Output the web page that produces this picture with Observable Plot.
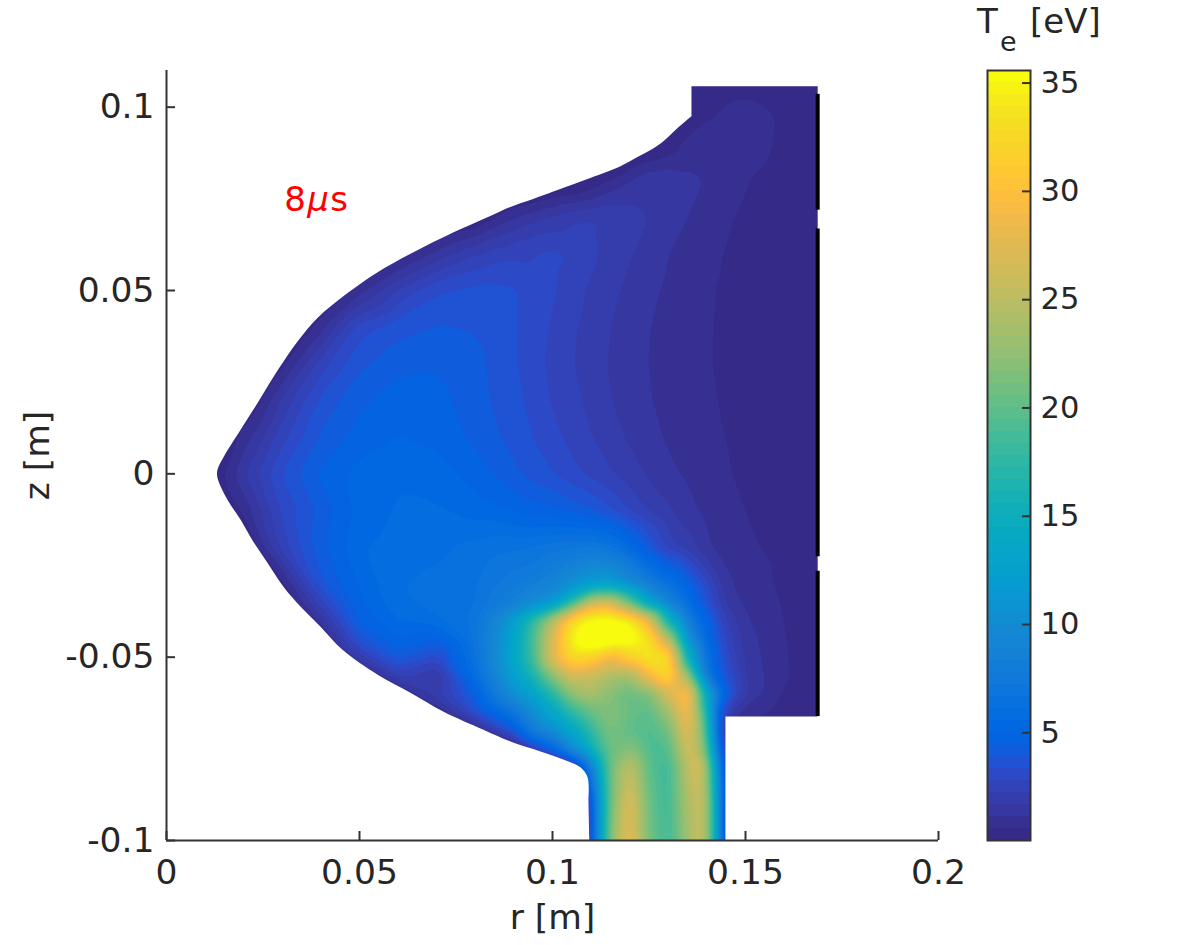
<!DOCTYPE html>
<html><head><meta charset="utf-8">
<script src="https://cdn.jsdelivr.net/npm/d3@7"></script>
<script src="https://cdn.jsdelivr.net/npm/@observablehq/plot@0.6"></script>
<style>
html,body{margin:0;padding:0;background:#fff}
#wrap{position:relative;width:1200px;height:945px;overflow:hidden;font-family:"DejaVu Sans";color:#262626}
#wrap svg{position:absolute;left:0;top:0;background:transparent}
.ct{position:absolute;white-space:pre;line-height:1;font-family:"DejaVu Sans"}
</style></head><body><div id="wrap"></div>
<script>
const xTicks=[0,0.05,0.1,0.15,0.2];
const yTicks=[-0.1,-0.05,0,0.05,0.1];
const cbTicks=[5,10,15,20,25,30,35];
const tMin=0.03, tMax=35.58;
const parula=[[.2081,.1663,.5292],[.2116,.1898,.5777],[.2123,.2138,.6270],[.2081,.2386,.6771],[.1959,.2645,.7279],[.1707,.2919,.7792],[.1253,.3242,.8303],[.0591,.3598,.8683],[.0117,.3875,.8820],[.0060,.4086,.8828],[.0165,.4266,.8786],[.0329,.4430,.8720],[.0498,.4586,.8641],[.0629,.4737,.8554],[.0723,.4887,.8467],[.0779,.5040,.8384],[.0793,.5200,.8312],[.0749,.5375,.8263],[.0641,.5570,.8240],[.0488,.5772,.8228],[.0343,.5966,.8199],[.0265,.6137,.8135],[.0239,.6287,.8038],[.0231,.6418,.7913],[.0228,.6535,.7768],[.0267,.6642,.7607],[.0384,.6743,.7436],[.0590,.6838,.7254],[.0843,.6928,.7062],[.1133,.7015,.6859],[.1453,.7098,.6646],[.1801,.7177,.6424],[.2178,.7250,.6193],[.2586,.7317,.5954],[.3022,.7376,.5712],[.3482,.7424,.5473],[.3953,.7459,.5244],[.4420,.7481,.5033],[.4871,.7491,.4840],[.5300,.7491,.4661],[.5709,.7485,.4494],[.6099,.7473,.4337],[.6473,.7456,.4188],[.6834,.7435,.4044],[.7184,.7411,.3905],[.7525,.7384,.3768],[.7858,.7356,.3633],[.8185,.7327,.3498],[.8507,.7299,.3360],[.8824,.7274,.3217],[.9139,.7258,.3063],[.9450,.7261,.2886],[.9739,.7314,.2666],[.9938,.7455,.2403],[.9990,.7653,.2164],[.9955,.7861,.1967],[.9880,.8066,.1794],[.9789,.8271,.1633],[.9697,.8481,.1475],[.9626,.8705,.1309],[.9589,.8949,.1132],[.9598,.9218,.0948],[.9661,.9514,.0755],[.9763,.9831,.0538]];
const rGrid=[.01,.02,.03,.04,.05,.06,.07,.08,.09,.10,.105,.11,.115,.12,.125,.13,.135,.14,.145,.15,.16,.17];
const zGrid=[.11,.10,.09,.08,.07,.06,.05,.04,.03,.02,.01,0,-.01,-.02,-.03,-.035,-.04,-.045,-.05,-.055,-.06,-.065,-.07,-.075,-.08,-.09,-.10];
const tempRows=[
[-2,-2,-2,-2,-2,-2,-2,-2,-2,-2,-2,-2,-2,-2,-2,-1,-.3,.2,.3,.3,.3,.3],
[-2,-2,-2,-2,-2,-2,-2,-2,-2,-2,-2,-2,-2,-2,-2,-1,-.2,.35,.62,.66,.52,.3],
[-2,-2,-2,-2,-2,-2,-2,-2,-2,-2,-2,-2,-2,-.6,-.3,.2,.8,1.15,1.05,.8,.5,.3],
[-2,-2,-2,-2,-2,-2,-2,-2,-.7,-.5,-.4,.1,.7,1.2,1.6,1.65,1.32,1.1,.82,.6,.4,.3],
[-2,-2,-2,-2,-2,-2,-.6,-.1,1.1,1.8,2.1,2.25,2.35,2.08,1.68,1.42,1.14,.92,.64,.5,.38,.3],
[-2,-2,-2,-2,-.6,.2,1.3,2.2,2.7,2.95,2.8,2.4,2.05,1.75,1.45,1.14,.95,.75,.55,.45,.37,.3],
[-2,-2,-2,-.3,.9,2.3,3.25,3.55,3.45,2.9,2.5,2.15,1.85,1.55,1.25,1.05,.85,.65,.5,.43,.36,.3],
[-2,-2,-.5,.9,3.1,3.7,3.95,3.85,3.45,2.75,2.35,2.05,1.7,1.4,1.15,.98,.8,.63,.5,.42,.36,.3],
[-2,-.5,.4,2.5,3.8,4.3,4.4,4.1,3.45,2.65,2.3,1.95,1.65,1.35,1.13,.95,.78,.62,.5,.42,.36,.3],
[-.7,-.3,1.8,3.5,4.35,4.75,4.65,4.15,3.55,2.75,2.42,2.1,1.72,1.42,1.18,.98,.82,.66,.53,.45,.38,.32],
[-.7,.8,2.6,4.0,4.7,5.05,4.85,4.35,3.7,3.0,2.62,2.27,1.95,1.6,1.3,1.08,.9,.72,.57,.47,.38,.32],
[-.4,1.6,3.4,4.6,5.25,5.5,5.3,4.75,4.05,3.4,3.0,2.65,2.3,1.95,1.6,1.25,1.05,.85,.62,.5,.4,.35],
[-.8,.7,2.9,4.1,5.2,5.65,5.65,5.3,4.95,4.6,4.3,3.95,3.4,2.7,2.15,1.82,1.28,1.0,.72,.57,.42,.34],
[-1.5,-.4,2.5,4.3,5.5,5.85,6.0,6.3,6.6,7.0,7.2,7.3,6.8,5.5,3.85,2.5,2.0,1.2,.95,.65,.45,.35],
[-3,-.7,.3,3.8,5.1,6.1,6.3,6.6,7.6,9,10.5,12,12,10,8,6.3,4.8,3,1.3,.85,.48,.35],
[-3,-3,-.4,2.6,4.9,6.0,6.4,6.6,8.4,11,17,26,27,20,12,8.5,5.8,3.5,1.5,1.0,.52,.35],
[-3,-3,-.8,1.3,4.6,5.6,6.0,6.8,12.5,25,33,36,36.5,35,29,15,8,5,2.2,1.2,.55,.36],
[-3,-3,-1,0,3.7,5.0,4.6,6.8,13,27,35,38,38.5,37,34,25,10.5,5.2,2.6,1.4,.58,.36],
[-3,-3,-3,-.8,2,4.2,3.0,6.6,13.5,28,33,32,28,32,35,34,15,6.2,3.0,1.5,.6,.36],
[-3,-3,-3,-3,-.4,2.4,1.5,6,12.5,22,27,26,24,23,29,34,24,7,3.4,1.6,.62,.37],
[-3,-3,-3,-3,-1,0,2.1,4.5,10.5,17,22.5,24.5,22,20,21,27,32,14,4.4,1.7,.5,.36],
[-3,-3,-3,-3,-1.5,-.6,.5,3.5,7,13.5,17.5,20.5,22,20.5,19.5,23,30,17,2.2,.8,.5,.35],
[-3,-3,-3,-3,-3,-3,-.8,.3,4,10,13.5,17.5,21.5,20,19,20.5,28.5,19,1,.4,.3,.3],
[-3,-3,-3,-3,-3,-3,-3,-1,-.3,5,10,15,21,22,19,19,27,21,1,.3,.3,.3],
[-3,-3,-3,-3,-3,-3,-3,-3,-1,-.6,.2,7,21,26,19.5,18,25,24,1,.3,.3,.3],
[-3,-3,-3,-3,-3,-3,-3,-3,-3,-3,-1,2,21,28,20.5,18,24,25,.8,.3,.3,.3],
[-3,-3,-3,-3,-3,-3,-3,-3,-3,-3,-1,1.8,22,28.5,21,18,23.5,25,.8,.3,.3,.3]
];
const extraR=[.095,.095,.095,.095,.095,.095,.095,.095,.1125,.1125,.1125,.1425,.1425,.1425,.1425,.1425,.1425,.1375,.1375,.1375,.085,.085,.085,.085,.085];
const extraZ=[-.035,-.04,-.045,-.05,-.055,-.06,-.065,-.07,-.08,-.09,-.10,-.065,-.07,-.075,-.08,-.09,-.10,-.08,-.09,-.10,-.04,-.045,-.05,-.055,-.06];
const extraT=[9.8,18,19,18.5,16,13,10,8,15,13,13,5,5,7,11,13,13,28,26,26,9,9.5,9.5,9,7.5];
const edgeR=[.136,.136,.1324,.1285,.1254,.122,.1176,.1098,.1034,.0948,.0891,.0839,.0728,.065,.0547,.0469,.0391,.0339,.0277,.0236,.0192,.0148,.0132,.0132,.0158,.0192,.0225,.0262,.0303,.0347,.0399,.0456,.0547,.0632,.0718,.0821,.0891,.0969,.1028,.1073,.1091,.1093,.1093,.1096,.1096];
const edgeZ=[.0975,.0975,.0943,.0905,.0883,.0864,.0839,.0807,.0782,.0749,.0728,.0703,.0651,.061,.055,.0493,.0425,.036,.0264,.0193,.012,.0046,.0011,-.0011,-.0071,-.0125,-.0185,-.0243,-.0308,-.0362,-.0417,-.048,-.0548,-.0597,-.0649,-.0698,-.073,-.0757,-.0779,-.0801,-.0828,-.0888,-.0888,-.102,-.102];
const outerR=[-.002,-.002,-.002,-.002,.202,.202,.202,.202,.1448,.1448,.1448,.1448,.1687,.1687,.1687,.1687,.136,.136];
const outerZ=[-.102,-.102,.112,.112,.112,.112,-.102,-.102,-.102,-.102,-.0662,-.0662,-.0662,-.0662,.1057,.1057,.1057,.1057];
const wallR=.1687;
const wallZ1=[.1035,.0668,-.0266];
const wallZ2=[.0719,-.0226,-.0662];

const step=(tMax-tMin)/64;
const colors=parula.map(c=>d3.rgb(c[0]*255,c[1]*255,c[2]*255).formatHex());
const thresholds=d3.range(1,64).map(i=>tMin+i*step);
const points=[];
zGrid.forEach((z,j)=>rGrid.forEach((r,i)=>points.push({r,z,T:tempRows[j][i]})));
extraR.forEach((r,i)=>points.push({r,z:extraZ[i],T:extraT[i]}));
const maskPts=[...outerR.map((r,i)=>({r,z:outerZ[i]})),...edgeR.map((r,i)=>({r,z:edgeZ[i]}))];
const wall=wallZ1.map((z1,i)=>({z1,z2:wallZ2[i]}));
const axisColor="#333";
const colorOpts={type:"threshold",domain:thresholds,range:colors};
const main=Plot.plot({
  width:1200,height:945,marginLeft:166,marginRight:262,marginTop:70,marginBottom:105,
  style:{fontFamily:"DejaVu Sans",fontSize:"34.5px",color:"#262626",background:"transparent"},
  x:{domain:[0,.2]},y:{domain:[-.1,.11]},color:colorOpts,
  marks:[
    Plot.frame({fill:colors[0],stroke:"none"}),
    Plot.contour(points,{x:"r",y:"z",fill:"T",thresholds,interpolate:"barycentric",pixelSize:1,blur:5}),
    Plot.line(maskPts,{x:"r",y:"z",fill:"white",stroke:"none",curve:"catmull-rom"}),
    Plot.ruleX(wall,{x:()=>wallR,y1:"z1",y2:"z2",stroke:"#000",strokeWidth:4}),
    Plot.ruleX([0],{stroke:axisColor,strokeWidth:2}),
    Plot.ruleY([-.1],{stroke:axisColor,strokeWidth:2}),
    Plot.axisX({ticks:xTicks,tickFormat:d=>String(d),tickSize:-9,tickPadding:28,stroke:axisColor,strokeWidth:2,fontSize:34.5,label:"r [m]",labelAnchor:"center",labelArrow:"none",labelOffset:88,color:"#262626"}),
    Plot.axisY({ticks:yTicks,tickFormat:d=>String(d),tickSize:-9,tickPadding:21,stroke:axisColor,strokeWidth:2,fontSize:34.5,label:"z [m]",labelAnchor:"center",labelArrow:"none",labelOffset:142,color:"#262626"}),
    Plot.text(["8"],{x:()=>.0305,y:()=>.0747,text:d=>d,textAnchor:"start",fill:"#f00",fontSize:34}),
    Plot.text(["μ"],{x:()=>.0305,y:()=>.0747,text:d=>d,textAnchor:"start",dx:23,fill:"#f00",fontSize:34,fontStyle:"italic"}),
    Plot.text(["s"],{x:()=>.0305,y:()=>.0747,text:d=>d,textAnchor:"start",dx:46,fill:"#f00",fontSize:34})
  ]
});
const levels=colors.map((c,i)=>({lo:tMin+i*step,hi:tMin+(i+1)*step}));
const bar=Plot.plot({
  width:1200,height:945,marginLeft:987,marginRight:170,marginTop:70,marginBottom:105,
  style:{fontFamily:"DejaVu Sans",fontSize:"30.5px",color:"#262626",background:"transparent"},
  x:{domain:[0,1],axis:null},y:{domain:[tMin,tMax]},color:colorOpts,
  marks:[
    Plot.rect(levels,{x1:()=>0,x2:()=>1,y1:"lo",y2:"hi",fill:d=>d.lo+step/2,shapeRendering:"crispEdges"}),
    Plot.axisY({anchor:"right",ticks:cbTicks,tickSize:-9,tickPadding:19,stroke:axisColor,strokeWidth:2,fontSize:30.5,label:null,color:"#262626"}),
    Plot.frame({stroke:axisColor,strokeWidth:2})
  ]
});
const wrap=document.getElementById("wrap");
wrap.append(main,bar);
[["T",977,4,34],["e",1000,28,27],["[eV]",1030,4,34]].forEach(([t,l,top,s])=>{
  const d=document.createElement("div");d.className="ct";d.textContent=t;
  d.style.cssText=`left:${l}px;top:${top}px;font-size:${s}px`;wrap.append(d);
});
</script></body></html>
